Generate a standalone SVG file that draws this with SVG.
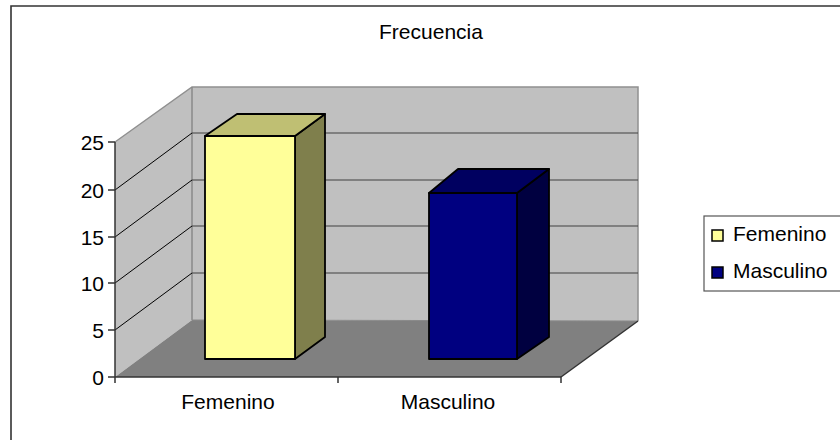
<svg xmlns="http://www.w3.org/2000/svg" width="840" height="440" viewBox="0 0 840 440">
<style>
text{font-family:"Liberation Sans",Arial,sans-serif;font-size:21px;fill:#000}
.grid{stroke:#404040;stroke-width:1.2;fill:none}
.diag{stroke:#000;stroke-width:1;fill:none}
.axis{stroke:#333;stroke-width:1.5;fill:none}
.bar{stroke:#000;stroke-width:1.8;stroke-linejoin:round}
.ylab{text-anchor:end}
.xlab{text-anchor:middle}
</style>
<rect x="0" y="0" width="840" height="440" fill="#fff"/>
<path d="M11 441 V6 H841" fill="none" stroke="#333" stroke-width="1.6"/>
<text id="title" x="431" y="39" text-anchor="middle">Frecuencia</text>
<g id="walls">
<polygon points="192,87 638,87 638,321 192,320" fill="#C0C0C0"/>
<polygon points="115,142 192,87 192,320 115,377" fill="#C0C0C0"/>
<polygon points="115,377 192,320 638,321 561,377" fill="#808080"/>
<path d="M115,142 L192,87 H638 V321" fill="none" stroke="#909090" stroke-width="1.5"/>
<line x1="192" y1="87" x2="192" y2="320" stroke="#8a8a8a" stroke-width="1.5"/>
<line x1="192" y1="320" x2="638" y2="321" stroke="#8a8a8a" stroke-width="1"/>
</g>
<g id="gridlines">
<line class="grid" x1="192" y1="273" x2="638" y2="273" stroke="#111"/>
<line class="grid" x1="192" y1="226" x2="638" y2="226"/>
<line class="grid" x1="192" y1="180" x2="638" y2="180"/>
<line class="grid" x1="192" y1="133" x2="638" y2="133"/>
<line class="diag" x1="115" y1="330" x2="192" y2="273"/>
<line class="diag" x1="115" y1="283" x2="192" y2="226"/>
<line class="diag" x1="115" y1="237" x2="192" y2="180"/>
<line class="diag" x1="115" y1="190" x2="192" y2="133"/>
</g>
<g id="axes">
<line class="axis" x1="115" y1="142" x2="115" y2="377"/>
<line class="axis" x1="115" y1="377" x2="561" y2="377" stroke="#111"/>
<line class="axis" x1="561" y1="377" x2="638" y2="321" stroke="#111" stroke-width="1.2"/>
<path class="axis" d="M108 142H115M108 190H115M108 237H115M108 283H115M108 330H115M108 377H115M115 377V383M338 377V383M561 377V383"/>
<text class="ylab" x="104" y="150">25</text>
<text class="ylab" x="104" y="198">20</text>
<text class="ylab" x="104" y="245">15</text>
<text class="ylab" x="104" y="291">10</text>
<text class="ylab" x="104" y="338">5</text>
<text class="ylab" x="104" y="385">0</text>
<text class="xlab" x="228" y="409">Femenino</text>
<text class="xlab" x="448" y="409">Masculino</text>
</g>
<g id="bar-femenino">
<polygon class="bar" points="295,136 325,114 325,337 295,359" fill="#7F7F4C"/>
<polygon class="bar" points="205,136 237,114 325,114 295,136" fill="#BFBF73"/>
<rect class="bar" x="205" y="136" width="90" height="223" fill="#FFFF99"/>
</g>
<g id="bar-masculino">
<polygon class="bar" points="517,193 549,169 549,337 517,359" fill="#000040"/>
<polygon class="bar" points="429,193 458,169 549,169 517,193" fill="#000060"/>
<rect class="bar" x="429" y="193" width="88" height="166" fill="#000080"/>
</g>
<g id="legend">
<rect x="704" y="216" width="150" height="75" fill="#fff" stroke="#555" stroke-width="1.2"/>
<rect x="712" y="230" width="11" height="11" fill="#FFFF99" stroke="#000" stroke-width="1.5"/>
<text x="733" y="241">Femenino</text>
<rect x="712" y="267" width="11" height="11" fill="#000080" stroke="#000" stroke-width="1.5"/>
<text x="733" y="278">Masculino</text>
</g>
</svg>
